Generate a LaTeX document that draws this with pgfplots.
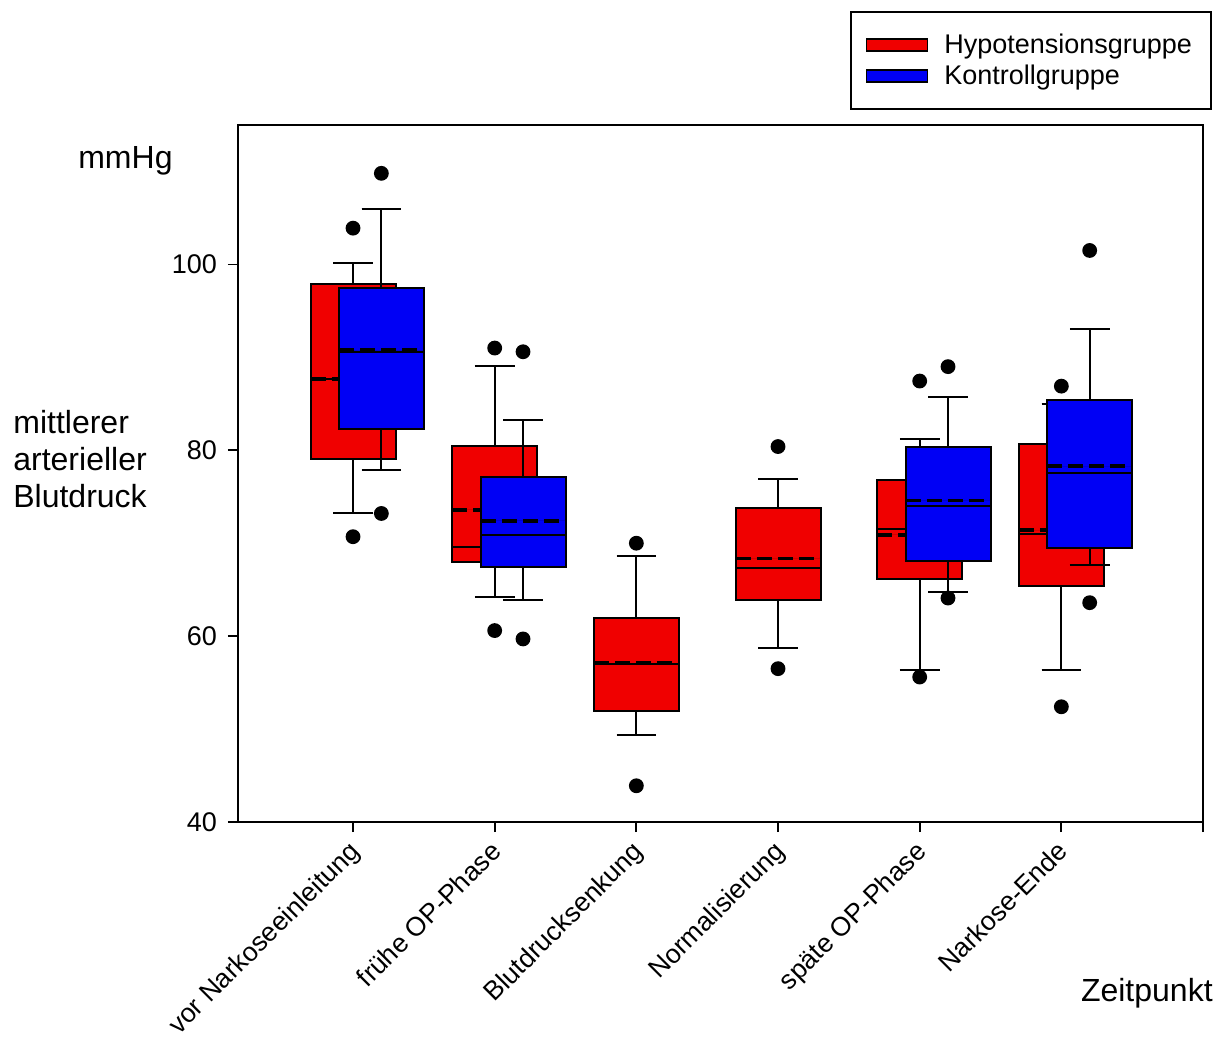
\documentclass[border=0pt]{standalone}
\usepackage{fontspec}
\setmainfont{Liberation Sans}
\usepackage{pgfplots}
\pgfplotsset{compat=1.18}
\usepgfplotslibrary{statistics}
\definecolor{hypo}{RGB}{240,0,0}
\definecolor{kontr}{RGB}{0,0,245}
\begin{document}
\begin{tikzpicture}
\useasboundingbox (-119pt,-108.5pt) rectangle (493.5pt,411pt);
\begin{axis}[
  at={(0,0)}, anchor=south west,
  scale only axis, width=482.5pt, height=348.5pt,
  clip=false,
  xmin=0.188, xmax=7, ymin=40, ymax=115,
  axis line style={line width=1pt},
  xtick={1,2,3,4,5,6,7},
  xticklabels={vor Narkoseeinleitung, frühe OP-Phase, Blutdrucksenkung, Normalisierung, späte OP-Phase, Narkose-Ende, {}},
  ytick={40,60,80,100},
  xtick pos=bottom, ytick pos=left,
  tick align=outside,
  major tick length=5pt,
  tick style={line width=0.9pt, black},
  /pgf/number format/assume math mode=true,
  ticklabel style={font=\fontsize{13.5}{16}\selectfont},
  xticklabel style={rotate=45, anchor=north east, inner sep=0pt, xshift=-4.5pt, yshift=-0.5pt, font=\fontsize{13.3}{16}\selectfont},
  yticklabel style={xshift=-2pt},
  boxplot/draw direction=y,
  boxplot/box extend=0.6,
  boxplot/whisker extend=0.28,
  boxplot/draw/average/.code={%
    \draw[black, line width=1.9pt, dash pattern=on 7.5pt off 3pt]
      (boxplot box cs:\pgfplotsboxplotvalue{average},0) --
      (boxplot box cs:\pgfplotsboxplotvalue{average},1);
  },
  legend image code/.code={\draw[#1, draw=black, line width=0.9pt] (0pt,-3pt) rectangle (30.5pt,3pt);},
  legend style={at={(axis description cs:1.0093,1.1636)}, anchor=north east,
    draw=black, line width=1pt, font=\fontsize{13.5}{15}\selectfont,
    inner xsep=7.5pt, inner ysep=9pt, row sep=0pt, column sep=6pt,
    nodes={inner sep=2pt}, cells={anchor=west}},
  legend cell align=left,
]
\addlegendimage{fill=hypo}
\addlegendentry{Hypotensionsgruppe}
\addlegendimage{fill=kontr}
\addlegendentry{Kontrollgruppe}

\pgfplotsset{
  redbox/.style={fill=hypo, draw=black, line width=1pt, mark=*, mark size=3.2pt, mark options={fill=black, draw=black, solid}},
  bluebox/.style={fill=kontr, draw=black, line width=1pt, mark=*, mark size=3.2pt, mark options={fill=black, draw=black, solid}},
}
% Hypotensionsgruppe
\addplot[redbox, boxplot prepared={draw position=1, lower whisker=73.2, lower quartile=79.1, median=87.7, upper quartile=97.9, upper whisker=100.2, average=87.7}] table[row sep=\\, y index=0] {70.7\\103.9\\};
\addplot[redbox, boxplot prepared={draw position=2, lower whisker=64.2, lower quartile=68.0, median=69.6, upper quartile=80.5, upper whisker=89.1, average=73.6}] table[row sep=\\, y index=0] {60.6\\91.0\\};
\addplot[redbox, boxplot prepared={draw position=3, lower whisker=49.35, lower quartile=51.9, median=57.0, upper quartile=62.0, upper whisker=68.6, average=57.1}] table[row sep=\\, y index=0] {43.9\\70.0\\};
\addplot[redbox, boxplot prepared={draw position=4, lower whisker=58.7, lower quartile=63.9, median=67.3, upper quartile=73.8, upper whisker=76.9, average=68.35}] table[row sep=\\, y index=0] {56.5\\80.4\\};
\addplot[redbox, boxplot prepared={draw position=5, lower whisker=56.4, lower quartile=66.1, median=71.5, upper quartile=76.8, upper whisker=81.2, average=70.9}] table[row sep=\\, y index=0] {55.6\\87.45\\};
\addplot[redbox, boxplot prepared={draw position=6, lower whisker=56.4, lower quartile=65.4, median=71.0, upper quartile=80.65, upper whisker=85.0, average=71.4}] table[row sep=\\, y index=0] {52.4\\86.9\\};
% Kontrollgruppe
\addplot[bluebox, boxplot prepared={draw position=1.2, lower whisker=77.85, lower quartile=82.3, median=90.6, upper quartile=97.5, upper whisker=106.0, average=90.75}] table[row sep=\\, y index=0] {73.2\\109.8\\};
\addplot[bluebox, boxplot prepared={draw position=2.2, lower whisker=63.9, lower quartile=67.4, median=70.9, upper quartile=77.1, upper whisker=83.3, average=72.4}] table[row sep=\\, y index=0] {59.7\\90.6\\};
\addplot[bluebox, boxplot prepared={draw position=5.2, lower whisker=64.7, lower quartile=68.1, median=74.0, upper quartile=80.3, upper whisker=85.7, average=74.6}] table[row sep=\\, y index=0] {64.1\\89.0\\};
\addplot[bluebox, boxplot prepared={draw position=6.2, lower whisker=67.7, lower quartile=69.5, median=77.6, upper quartile=85.4, upper whisker=93.0, average=78.3}] table[row sep=\\, y index=0] {63.6\\101.5\\};

\node[anchor=base east, font=\fontsize{16}{18}\selectfont, inner sep=0pt] at (axis description cs:-0.0674,0.9375) {mmHg};
\node[anchor=west, align=left, font=\fontsize{16}{18.5}\selectfont, inner sep=0pt] at (axis description cs:-0.2332,0.521) {mittlerer\\arterieller\\Blutdruck};
\node[anchor=base east, font=\fontsize{16}{18}\selectfont, inner sep=0pt] at (axis description cs:1.0104,-0.2578) {Zeitpunkt};
\end{axis}
\end{tikzpicture}
\end{document}
